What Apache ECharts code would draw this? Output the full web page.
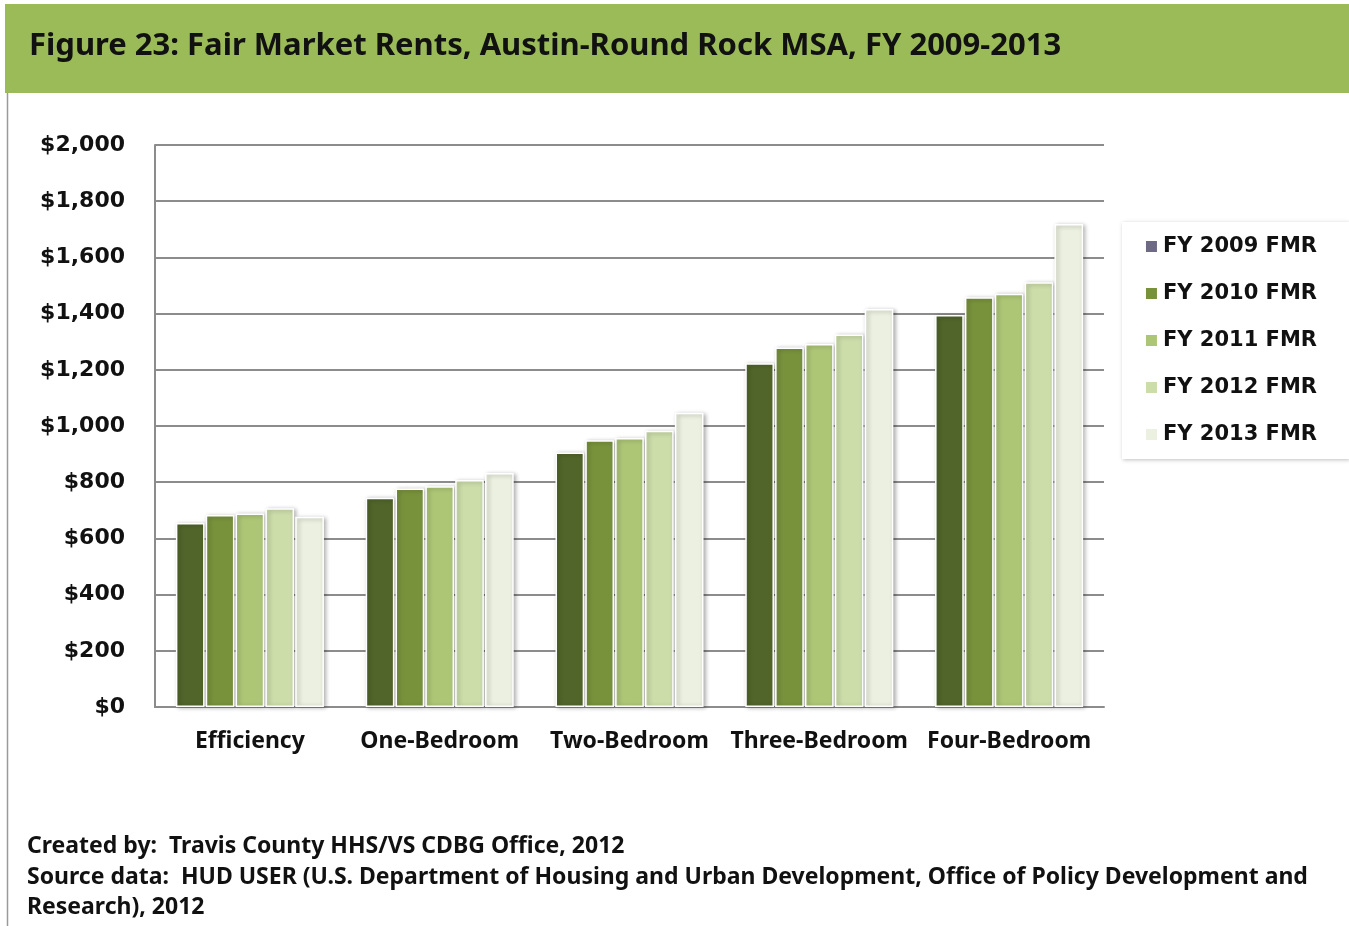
<!DOCTYPE html>
<html>
<head>
<meta charset="utf-8">
<script src="https://cdn.jsdelivr.net/npm/echarts@6/dist/echarts.min.js"></script>
<style>
  html, body { margin: 0; padding: 0; background: #fff; }
  #chart { width: 1349px; height: 926px; }
</style>
</head>
<body>
<div id="chart"></div>
<script>
const categories = ['Efficiency', 'One-Bedroom', 'Two-Bedroom', 'Three-Bedroom', 'Four-Bedroom']
const seriesNames = ['FY 2009 FMR', 'FY 2010 FMR', 'FY 2011 FMR', 'FY 2012 FMR', 'FY 2013 FMR']
const fy2009 = [655, 745, 906, 1223, 1395]
const fy2010 = [683, 778, 949, 1279, 1458]
const fy2011 = [689, 786, 957, 1292, 1471]
const fy2012 = [707, 808, 983, 1326, 1512]
const fy2013 = [677, 833, 1047, 1416, 1719]
const barColors = ['#51652a', '#78923c', '#adc676', '#ccddaa', '#ebf0e0']
// the original legend shows a grey-purple swatch for FY 2009
const legendColors = ['#6e6a86', '#78923c', '#adc676', '#ccddaa', '#ebf0e0']

const allValues = [fy2009, fy2010, fy2011, fy2012, fy2013]

const chart = echarts.init(document.getElementById('chart'))

chart.setOption({
  animation: false,
  backgroundColor: '#ffffff',
  grid: { left: 155, right: 245, top: 145, bottom: 219 },
  legend: {
    orient: 'vertical',
    right: 0,
    top: 222,
    padding: [14, 32, 14, 22],
    itemGap: 26,
    icon: 'rect',
    itemWidth: 13,
    itemHeight: 13,
    backgroundColor: '#ffffff',
    shadowColor: 'rgba(0,0,0,0.25)',
    shadowBlur: 4,
    shadowOffsetX: 1,
    shadowOffsetY: 1,
    textStyle: { fontSize: 21, fontWeight: 'bold', color: '#111', fontFamily: '"DejaVu Sans", sans-serif' },
    data: seriesNames.map((name, i) => ({ name, itemStyle: { color: legendColors[i] } }))
  },
  xAxis: {
    type: 'category',
    data: categories,
    axisLine: { lineStyle: { color: '#8c8c8c', width: 2 } },
    axisTick: { show: false },
    axisLabel: {
      color: '#111',
      fontSize: 23,
      fontWeight: 'bold',
      fontFamily: '"Noto Sans", sans-serif',
      margin: 23,
      interval: 0
    }
  },
  yAxis: {
    type: 'value',
    min: 0,
    max: 2000,
    interval: 200,
    axisLine: { show: true, lineStyle: { color: '#8c8c8c', width: 2 } },
    axisTick: { show: false },
    splitLine: { lineStyle: { color: '#8c8c8c', width: 2 } },
    axisLabel: {
      color: '#111',
      fontSize: 22,
      fontWeight: 'bold',
      fontFamily: '"DejaVu Sans", sans-serif',
      margin: 30,
      formatter: v => '$' + v.toLocaleString('en-US')
    }
  },
  series: seriesNames.map((name, i) => ({
    name,
    type: 'bar',
    data: allValues[i],
    barGap: '4%',
    barCategoryGap: '22%',
    itemStyle: {
      color: barColors[i],
      borderColor: '#ffffff',
      borderWidth: 1.5,
      shadowColor: 'rgba(0,0,0,0.3)',
      shadowBlur: 4,
      shadowOffsetX: 2,
      shadowOffsetY: 1
    }
  })),
  graphic: [
    {
      type: 'rect',
      shape: { x: 5, y: 4, width: 1344, height: 89 },
      style: { fill: '#9bbb59' },
      z: -1
    },
    {
      type: 'line',
      shape: { x1: 7.5, y1: 93, x2: 7.5, y2: 926 },
      style: { stroke: '#9a9a9a', lineWidth: 1.5 }
    },
    {
      type: 'text',
      left: 29,
      top: 31,
      style: {
        text: 'Figure 23: Fair Market Rents, Austin-Round Rock MSA, FY 2009-2013',
        fill: '#111',
        font: 'bold 31px "Noto Sans", "Open Sans", sans-serif'
      }
    },
    {
      type: 'text',
      left: 27,
      top: 835,
      style: {
        text: 'Created by:  Travis County HHS/VS CDBG Office, 2012',
        fill: '#111',
        font: 'bold 23px "Noto Sans", sans-serif'
      }
    },
    {
      type: 'text',
      left: 27,
      top: 866,
      style: {
        text: 'Source data:  HUD USER (U.S. Department of Housing and Urban Development, Office of Policy Development and',
        fill: '#111',
        font: 'bold 23px "Noto Sans", sans-serif'
      }
    },
    {
      type: 'text',
      left: 27,
      top: 896,
      style: {
        text: 'Research), 2012',
        fill: '#111',
        font: 'bold 23px "Noto Sans", sans-serif'
      }
    }
  ]
})
</script>
</body>
</html>
